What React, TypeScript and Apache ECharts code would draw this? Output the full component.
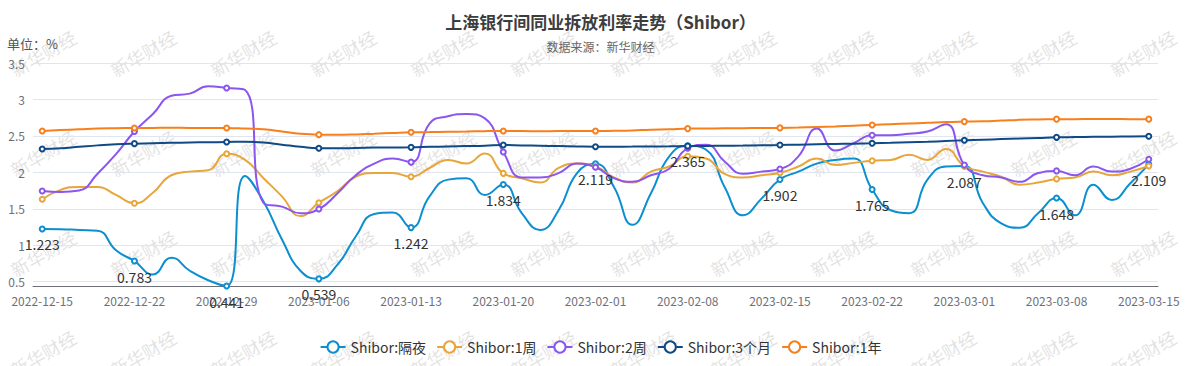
import React, { useEffect, useRef } from "react";
import * as echarts from "echarts";

const dates = [
  "2022-12-15", "2022-12-16", "2022-12-19", "2022-12-20", "2022-12-21", "2022-12-22",
  "2022-12-23", "2022-12-26", "2022-12-27", "2022-12-28", "2022-12-29",
  "2022-12-30", "2023-01-03", "2023-01-04", "2023-01-05", "2023-01-06",
  "2023-01-09", "2023-01-10", "2023-01-11", "2023-01-12", "2023-01-13",
  "2023-01-16", "2023-01-17", "2023-01-18", "2023-01-19", "2023-01-20",
  "2023-01-28", "2023-01-29", "2023-01-30", "2023-01-31", "2023-02-01",
  "2023-02-02", "2023-02-03", "2023-02-06", "2023-02-07", "2023-02-08",
  "2023-02-09", "2023-02-10", "2023-02-13", "2023-02-14", "2023-02-15",
  "2023-02-16", "2023-02-17", "2023-02-20", "2023-02-21", "2023-02-22",
  "2023-02-23", "2023-02-24", "2023-02-27", "2023-02-28", "2023-03-01",
  "2023-03-02", "2023-03-03", "2023-03-06", "2023-03-07", "2023-03-08",
  "2023-03-09", "2023-03-10", "2023-03-13", "2023-03-14", "2023-03-15",
];

const overnight = [
  1.223, 1.22, 1.21, 1.2, 0.93, 0.783,
  0.6, 0.83, 0.65, 0.52, 0.441,
  1.95, 1.6, 1.08, 0.65, 0.539,
  0.73, 1.12, 1.43, 1.45, 1.242,
  1.67, 1.9, 1.92, 1.69, 1.834,
  1.44, 1.21, 1.48, 1.99, 2.119,
  1.8, 1.28, 1.71, 2.22, 2.365,
  2.31, 1.8, 1.41, 1.64, 1.902,
  2.01, 2.12, 2.17, 2.19, 1.765,
  1.48, 1.44, 1.9, 2.08, 2.087,
  1.58, 1.3, 1.24, 1.44, 1.648,
  1.41, 1.83, 1.62, 1.85, 2.109,
];

const week1 = [
  1.63, 1.76, 1.8, 1.8, 1.69, 1.575,
  1.72, 1.96, 2.01, 2.03, 2.256,
  2.17, 1.92, 1.67, 1.4, 1.584,
  1.74, 1.94, 1.99, 1.99, 1.94,
  2.06, 2.17, 2.12, 2.26, 1.986,
  1.92, 1.86, 2.06, 2.12, 2.08,
  1.93, 1.86, 2.01, 2.08, 2.22,
  2.19, 1.98, 1.93, 1.96, 1.995,
  2.08, 2.19, 2.1, 2.13, 2.16,
  2.17, 2.24, 2.17, 2.32, 2.087,
  2.01, 1.94, 1.83, 1.86, 1.91,
  1.93, 2.01, 1.96, 2.01, 2.087,
];

const week2 = [
  1.744, 1.73, 1.75, 1.98, 2.25, 2.56,
  2.8, 3.05, 3.08, 3.18, 3.157,
  3.13, 1.58, 1.53, 1.44, 1.497,
  1.71, 1.96, 2.12, 2.19, 2.14,
  2.67, 2.77, 2.8, 2.74, 2.28,
  1.93, 1.93, 1.99, 2.12, 2.07,
  1.92, 1.87, 1.96, 2.05, 2.33,
  2.38, 2.15, 1.98, 2.01, 2.046,
  2.22, 2.6, 2.3, 2.4, 2.51,
  2.51, 2.53, 2.56, 2.66, 2.1,
  1.96, 1.93, 1.87, 1.99, 2.02,
  1.96, 2.08, 2.01, 2.05, 2.18,
];

const month3 = [
  2.32, 2.33, 2.35, 2.37, 2.385, 2.394,
  2.4, 2.405, 2.41, 2.413, 2.416,
  2.42, 2.41, 2.38, 2.35, 2.33,
  2.33, 2.335, 2.34, 2.342, 2.343,
  2.35, 2.355, 2.36, 2.365, 2.375,
  2.37, 2.365, 2.36, 2.355, 2.352,
  2.352, 2.353, 2.355, 2.357, 2.36,
  2.362, 2.365, 2.368, 2.372, 2.375,
  2.38, 2.385, 2.39, 2.394, 2.398,
  2.405, 2.413, 2.42, 2.43, 2.44,
  2.448, 2.456, 2.464, 2.472, 2.48,
  2.484, 2.487, 2.49, 2.492, 2.494,
];

const year1 = [
  2.567, 2.58, 2.59, 2.6, 2.605, 2.608,
  2.61, 2.612, 2.61, 2.61, 2.608,
  2.6, 2.59, 2.56, 2.53, 2.517,
  2.515, 2.52, 2.53, 2.54, 2.549,
  2.553, 2.557, 2.56, 2.565, 2.567,
  2.566, 2.565, 2.566, 2.567, 2.567,
  2.57, 2.575, 2.585, 2.59, 2.6,
  2.602, 2.604, 2.606, 2.608, 2.61,
  2.615, 2.622, 2.63, 2.64, 2.65,
  2.66, 2.67, 2.68, 2.69, 2.696,
  2.7, 2.71, 2.72, 2.725, 2.73,
  2.73, 2.731, 2.731, 2.73, 2.73,
];

const seriesNames = ["Shibor:隔夜", "Shibor:1周", "Shibor:2周", "Shibor:3个月", "Shibor:1年"];
const seriesValues = [overnight, week1, week2, month3, year1];
const colors = ["#0b8fd0", "#e8a63a", "#8b55f0", "#0f4a86", "#f77f1c"];

const titleText = "上海银行间同业拆放利率走势（Shibor）";
const sourceText = "数据来源：新华财经";
const unitText = "单位：%";
const watermarkText = "新华财经";

const FONT = '"Microsoft YaHei", "Noto Sans CJK SC", sans-serif';
const MARK_STEP = 5;

function buildData(values: number[]) {
  return values.map((v, i) => (i % MARK_STEP === 0 ? v : { value: v, symbol: "none" }));
}

function buildWatermarks() {
  const els: any[] = [];
  for (let row = 0; row < 4; row++) {
    for (let col = 0; col < 12; col++) {
      els.push({
        type: "text",
        x: 43 + col * 100,
        y: 53 + row * 100,
        rotation: Math.PI / 6,
        silent: true,
        z: 0,
        style: {
          text: watermarkText,
          fontSize: 18,
          fontFamily: FONT,
          fill: "rgba(170,170,170,0.34)",
          align: "center",
          verticalAlign: "middle",
        },
      });
    }
  }
  return els;
}

export default function App() {
  const ref = useRef<HTMLDivElement>(null);
  useEffect(() => {
    if (!ref.current) return;
    const chart = echarts.init(ref.current, undefined, { renderer: "svg" });
    const option: any = {
      animation: false,
      backgroundColor: "#ffffff",
      textStyle: { fontFamily: FONT },
      color: colors,
      title: [
        {
          text: titleText,
          left: "center",
          top: 8,
          textStyle: { fontSize: 17, fontWeight: "bold", color: "#3d3d3d", fontFamily: FONT },
        },
        {
          text: sourceText,
          left: "center",
          top: 35,
          textStyle: { fontSize: 12, fontWeight: "normal", color: "#666666", fontFamily: FONT },
        },
        {
          text: unitText,
          left: 2,
          top: 32,
          textStyle: { fontSize: 13, fontWeight: "normal", color: "#555555", fontFamily: FONT },
        },
      ],
      graphic: buildWatermarks(),
      legend: {
        data: seriesNames,
        left: "center",
        top: 335,
        itemWidth: 25,
        itemHeight: 14,
        itemGap: 10,
        textStyle: { fontSize: 14, color: "#333333", fontFamily: FONT },
      },
      grid: { left: 33, right: 43, top: 63, bottom: 80, containLabel: false },
      xAxis: {
        type: "category",
        data: dates,
        boundaryGap: true,
        axisLine: { lineStyle: { color: "#6e7079" } },
        axisTick: { interval: MARK_STEP - 1 },
        axisLabel: { interval: MARK_STEP - 1, fontSize: 12, color: "#6e7079", fontFamily: FONT },
      },
      yAxis: {
        type: "value",
        min: "dataMin",
        max: 3.5,
        splitNumber: 6,
        axisLabel: { fontSize: 12, color: "#6e7079", fontFamily: FONT },
        splitLine: { lineStyle: { color: "#e0e6f1" } },
      },
      series: seriesValues.map((vals, idx) => ({
        name: seriesNames[idx],
        type: "line",
        smooth: true,
        symbol: "emptyCircle",
        symbolSize: 5,
        lineStyle: { width: 2 },
        data: buildData(vals),
        label:
          idx === 0
            ? { show: true, position: "bottom", fontSize: 14, color: "#333333", fontFamily: FONT }
            : { show: false },
      })),
    };
    chart.setOption(option);
    return () => chart.dispose();
  }, []);
  return (
    <div
      ref={ref}
      style={{ position: "fixed", left: 0, top: 0, width: 1201, height: 366, background: "#fff" }}
    />
  );
}
